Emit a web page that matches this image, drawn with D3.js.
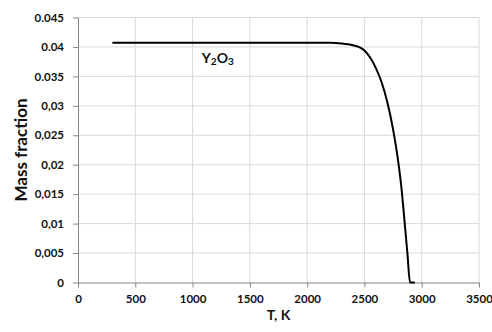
<!DOCTYPE html>
<html><head><meta charset="utf-8">
<script src="https://cdn.jsdelivr.net/npm/d3@7"></script>
<style>body{margin:0;background:#fff;} text{font-family:Lato,"Open Sans",sans-serif;font-weight:bold;fill:#111;}</style>
</head><body>
<svg id="c" width="492" height="332"></svg>
<script>
const temps = [300, 500, 1000, 1500, 2000, 2200, 2300, 2400, 2450, 2500, 2550, 2600, 2650, 2700, 2750, 2800, 2825, 2850, 2875, 2898, 2940];
const massY2O3 = [0.0407, 0.0407, 0.0407, 0.0407, 0.0407, 0.0407, 0.0406, 0.0403, 0.0400, 0.0394, 0.0382, 0.0364, 0.0340, 0.0306, 0.0260, 0.0198, 0.0157, 0.0104, 0.0050, 0.0, 0.0];
const xTicks = [0, 500, 1000, 1500, 2000, 2500, 3000, 3500];
const xTickLabels = ["0", "500", "1000", "1500", "2000", "2500", "3000", "3500"];
const yTicks = [0, 0.005, 0.01, 0.015, 0.02, 0.025, 0.03, 0.035, 0.04, 0.045];
const yTickLabels = ["0", "0,005", "0,01", "0,015", "0,02", "0,025", "0,03", "0.035", "0.04", "0.045"];
const seriesLabel = ["Y", "2", "O", "3"];

const svg = d3.select("#c");
const L = 78, R = 479, T = 17.5, B = 282.5;
const x = d3.scaleLinear().domain([0, 3500]).range([L, R]);
const y = d3.scaleLinear().domain([0, 0.045]).range([B, T]);

// grid
svg.append("g").selectAll("line.v").data(xTicks.slice(1)).join("line")
  .attr("x1", d => x(d)).attr("x2", d => x(d)).attr("y1", T).attr("y2", B)
  .attr("stroke", "#d9d9d9").attr("stroke-width", 1);
svg.append("g").selectAll("line.h").data(yTicks.slice(1)).join("line")
  .attr("x1", L).attr("x2", R).attr("y1", d => y(d)).attr("y2", d => y(d))
  .attr("stroke", "#d9d9d9").attr("stroke-width", 1);

// axes
const xAxis = d3.axisBottom(x).tickValues(xTicks).tickFormat((d, i) => xTickLabels[i]).tickSize(5).tickSizeOuter(0).tickPadding(7);
const gx = svg.append("g").attr("transform", `translate(0,${B})`).call(xAxis);
gx.select(".domain").attr("stroke", "#868686");
gx.selectAll(".tick line").attr("stroke", "#868686");
gx.selectAll("text").style("font-size", "11.5px");

const yAxis = d3.axisLeft(y).tickValues(yTicks).tickFormat((d, i) => yTickLabels[i]).tickSize(5).tickSizeOuter(0).tickPadding(9);
const gy = svg.append("g").attr("transform", `translate(${L},0)`).call(yAxis);
gy.select(".domain").attr("stroke", "#868686");
gy.selectAll(".tick line").attr("stroke", "#868686");
gy.selectAll("text").style("font-size", "11.5px");

// line
const line = d3.line().x((d, i) => x(temps[i])).y(d => y(d)).curve(d3.curveMonotoneX);
svg.append("path").datum(massY2O3).attr("d", line)
  .attr("fill", "none").attr("stroke", "#000").attr("stroke-width", 2);

// series label
const lab = svg.append("text").attr("x", x(1080)).attr("y", y(0.0372)).style("font-size", "14px");
lab.append("tspan").text(seriesLabel[0]);
lab.append("tspan").text(seriesLabel[1]).style("font-size", "10px").attr("dy", 2);
lab.append("tspan").text(seriesLabel[2]).attr("dy", -2);
lab.append("tspan").text(seriesLabel[3]).style("font-size", "10px").attr("dy", 2);

// axis titles
svg.append("text").attr("x", (L + R) / 2).attr("y", 320).attr("text-anchor", "middle")
  .style("font-size", "14px").text("T, K");
svg.append("text").attr("transform", `translate(27,${(T + B) / 2}) rotate(-90)`).attr("text-anchor", "middle")
  .style("font-size", "17px").text("Mass fraction");
</script>
</body></html>
